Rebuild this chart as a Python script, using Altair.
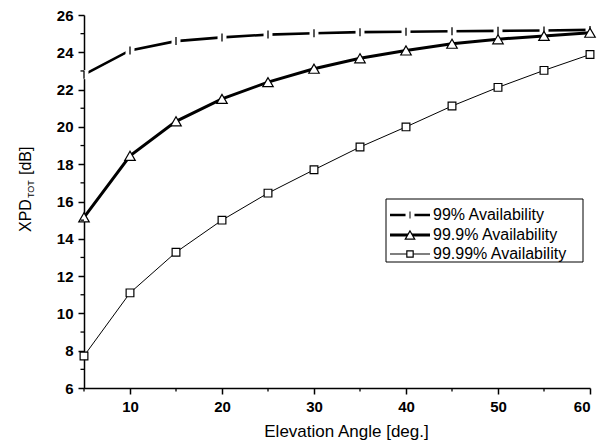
import altair as alt
import pandas as pd

# ---- data ----
elevation = [5, 10, 15, 20, 25, 30, 35, 40, 45, 50, 55, 60]
avail_99 = [22.8, 24.1, 24.6, 24.8, 24.95, 25.02, 25.08, 25.1, 25.13, 25.15, 25.17, 25.2]
avail_999 = [15.15, 18.45, 20.3, 21.5, 22.4, 23.12, 23.68, 24.1, 24.46, 24.7, 24.88, 25.05]
avail_9999 = [7.72, 11.1, 13.28, 15.0, 16.45, 17.7, 18.92, 20.0, 21.12, 22.12, 23.03, 23.88]
series_names = ["99% Availability", "99.9% Availability", "99.99% Availability"]

x_major = [10, 20, 30, 40, 50, 60]
x_minor = [5, 15, 25, 35, 45, 55]
y_major = [6, 8, 10, 12, 14, 16, 18, 20, 22, 24, 26]
y_minor = [7, 9, 11, 13, 15, 17, 19, 21, 23, 25]

FONT = "Liberation Sans"
W, H = 506, 373

xscale = alt.Scale(domain=[5, 60], nice=False, zero=False)
yscale = alt.Scale(domain=[6, 26], nice=False, zero=False)
xaxis = alt.Axis(values=x_major, title="Elevation Angle [deg.]", titleX=262)
yaxis = alt.Axis(values=y_major, title=None)


def X():
    return alt.X("x:Q", scale=xscale, axis=xaxis)


def Y():
    return alt.Y("y:Q", scale=yscale, axis=yaxis)


def df(vals):
    return pd.DataFrame({"x": elevation, "y": vals})


# 99% series: thick line broken at markers with a vertical bar marker
l99 = alt.Chart(df(avail_99)).mark_line(color="black", strokeWidth=2.6).encode(x=X(), y=Y())
g99 = alt.Chart(df(avail_99)).mark_point(shape="square", filled=True, color="white",
                                         size=80, strokeWidth=0, opacity=1).encode(x=X(), y=Y())
b99 = alt.Chart(df(avail_99)).mark_point(shape="M0,-1L0,1", filled=False, color="black",
                                         size=64, strokeWidth=1.3, opacity=1).encode(x=X(), y=Y())

# 99.9% series: thick line, open triangles
l999 = alt.Chart(df(avail_999)).mark_line(color="black", strokeWidth=3).encode(x=X(), y=Y())
p999 = alt.Chart(df(avail_999)).mark_point(shape="triangle-up", filled=True, fill="white",
                                           stroke="black", strokeWidth=1.2, size=110,
                                           opacity=1).encode(x=X(), y=Y())

# 99.99% series: thin line, open squares
l9999 = alt.Chart(df(avail_9999)).mark_line(color="black", strokeWidth=1).encode(x=X(), y=Y())
p9999 = alt.Chart(df(avail_9999)).mark_point(shape="square", filled=True, fill="white",
                                             stroke="black", strokeWidth=1.2, size=60,
                                             opacity=1).encode(x=X(), y=Y())

# minor ticks
xmin_t = alt.Chart(pd.DataFrame({"x": x_minor})).mark_rule(color="black", strokeWidth=1.3).encode(
    x=X(), y=alt.value(H), y2=alt.value(H + 3.5))
ymin_t = alt.Chart(pd.DataFrame({"y": y_minor})).mark_rule(color="black", strokeWidth=1.3).encode(
    y=Y(), x=alt.value(0), x2=alt.value(-3.5))

# y axis title with subscript
one = pd.DataFrame({"a": [0]})
yt1 = alt.Chart(one).mark_text(text="XPD", angle=270, align="left", baseline="middle",
                               font=FONT, fontSize=16).encode(x=alt.value(-58), y=alt.value(217))
yt2 = alt.Chart(one).mark_text(text="TOT", angle=270, align="left", baseline="middle",
                               font=FONT, fontSize=9).encode(x=alt.value(-53), y=alt.value(183))
yt3 = alt.Chart(one).mark_text(text="[dB]", angle=270, align="left", baseline="middle",
                               font=FONT, fontSize=16).encode(x=alt.value(-58), y=alt.value(160))

# legend
box = alt.Chart(one).mark_rect(fill="white", stroke="black", strokeWidth=1).encode(
    x=alt.value(302), x2=alt.value(499), y=alt.value(184), y2=alt.value(247))
leg_layers = [box]
rows = [200, 220, 239]
for i, name in enumerate(series_names):
    yy = rows[i]
    sw = [2.6, 3, 1.2][i]
    leg_layers.append(alt.Chart(one).mark_rule(color="black", strokeWidth=sw).encode(
        x=alt.value(306), x2=alt.value(346), y=alt.value(yy)))
    if i == 0:
        leg_layers.append(alt.Chart(one).mark_point(shape="square", filled=True, color="white",
                                                    size=80, strokeWidth=0, opacity=1).encode(
            x=alt.value(326), y=alt.value(yy)))
        leg_layers.append(alt.Chart(one).mark_point(shape="M0,-1L0,1", filled=False, color="black",
                                                    size=49, strokeWidth=1, opacity=1).encode(
            x=alt.value(326), y=alt.value(yy)))
    elif i == 1:
        leg_layers.append(alt.Chart(one).mark_point(shape="triangle-up", filled=True, fill="white",
                                                    stroke="black", strokeWidth=1.2, size=90,
                                                    opacity=1).encode(x=alt.value(326), y=alt.value(yy)))
    else:
        leg_layers.append(alt.Chart(one).mark_point(shape="square", filled=True, fill="white",
                                                    stroke="black", strokeWidth=1.2, size=40,
                                                    opacity=1).encode(x=alt.value(326), y=alt.value(yy)))
    leg_layers.append(alt.Chart(one).mark_text(text=name, align="left", baseline="middle",
                                               font=FONT, fontSize=16).encode(
        x=alt.value(349), y=alt.value(yy)))

chart = alt.layer(
    l99, g99, b99, l999, p999, l9999, p9999, xmin_t, ymin_t, yt1, yt2, yt3, *leg_layers
).properties(
    width=W, height=H,
    autosize=alt.AutoSizeParams(type="none"),
    padding={"left": 76, "top": 7, "right": 9, "bottom": 58},
).configure_view(stroke=None).configure_axis(
    grid=False, domainColor="black", domainWidth=1.5, tickColor="black", tickWidth=1.5,
    tickSize=6, labelFont=FONT, labelFontSize=15, labelFontWeight="bold", labelColor="black",
    labelPadding=5, titleFont=FONT, titleFontSize=17, titleFontWeight="normal",
    titleColor="black", titlePadding=9,
)

chart.save("out.html", embed_options={"renderer": "svg", "actions": False})
